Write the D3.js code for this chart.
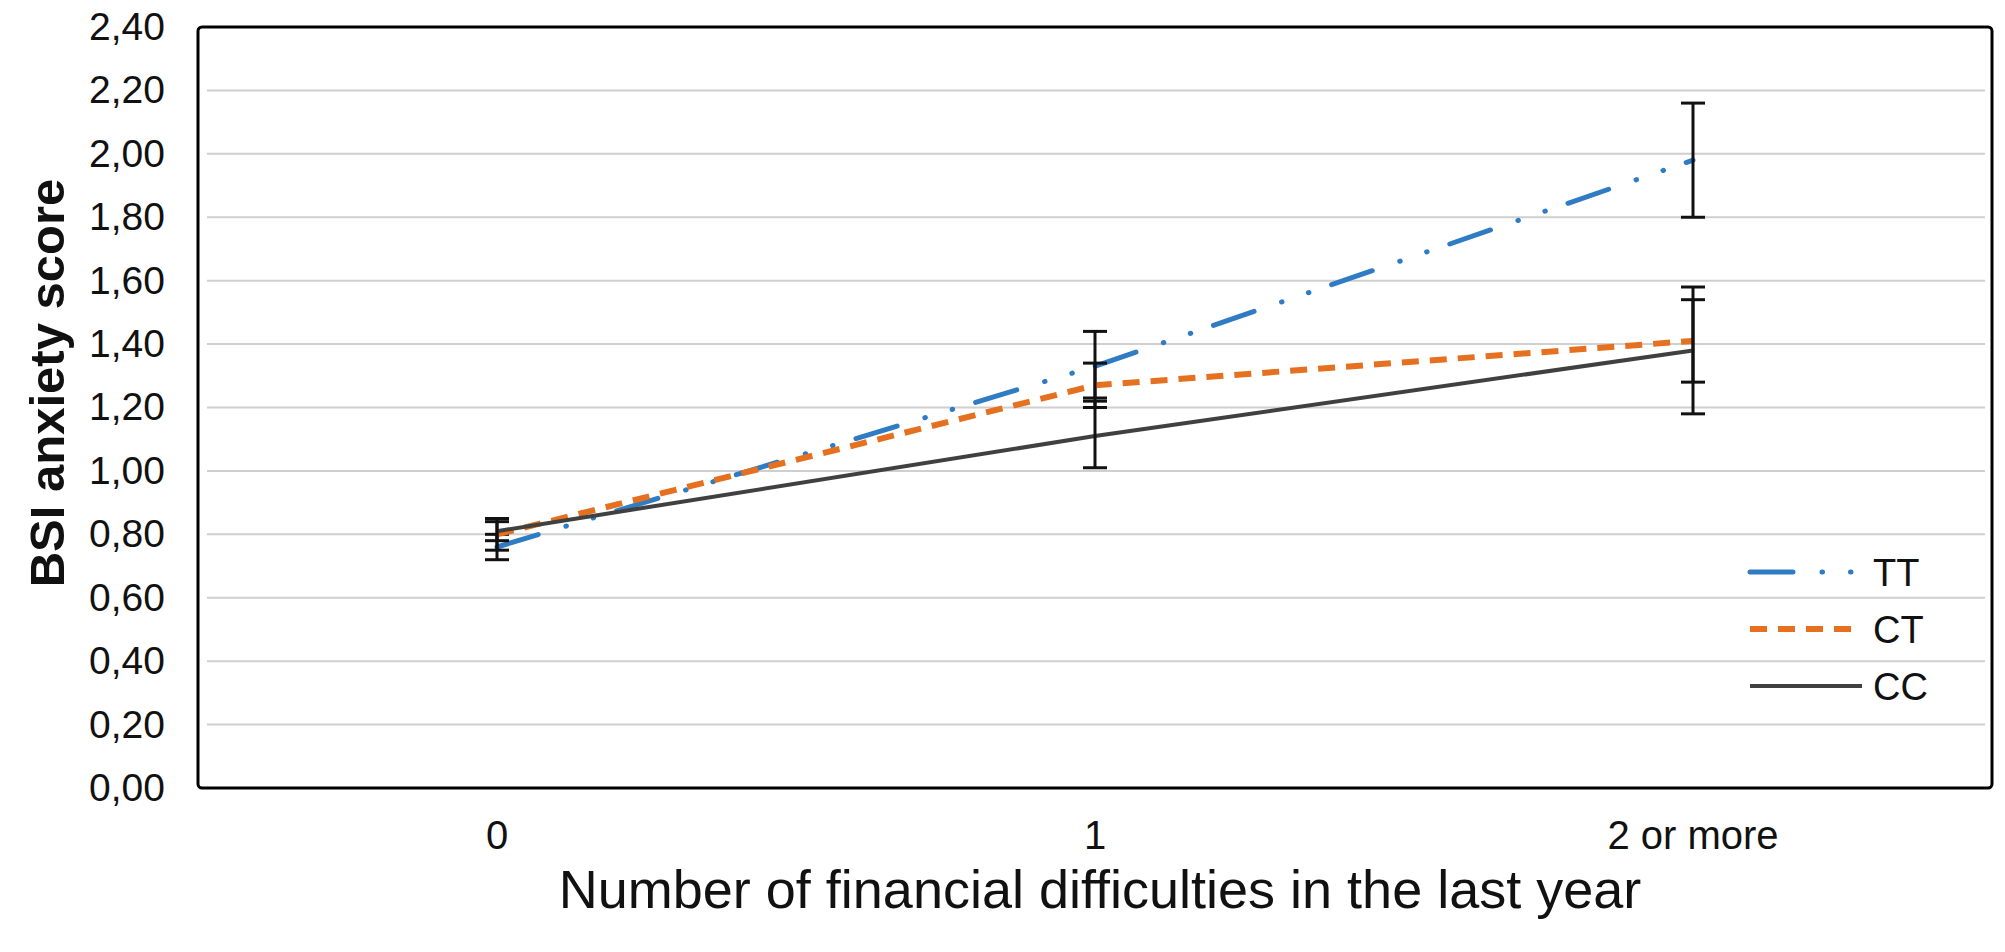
<!DOCTYPE html>
<html>
<head>
<meta charset="utf-8">
<script src="https://cdn.jsdelivr.net/npm/d3@7/dist/d3.min.js"></script>
<style>
    body { margin: 0; background: #fff; }
    svg text { font-family: "Liberation Sans", Arial, sans-serif; fill: #111; }
</style>
</head>
<body>
<svg id="chart"></svg>
<script>
// values
const categories = ["0", "1", "2 or more"];
const seriesNames = ["TT", "CT", "CC"];

const ttMeans = [0.76, 1.33, 1.98];
const ttLow   = [0.72, 1.23, 1.80];
const ttHigh  = [0.80, 1.44, 2.16];

const ctMeans = [0.80, 1.27, 1.41];
const ctLow   = [0.75, 1.20, 1.28];
const ctHigh  = [0.85, 1.34, 1.54];

const ccMeans = [0.81, 1.11, 1.38];
const ccLow   = [0.78, 1.01, 1.18];
const ccHigh  = [0.84, 1.22, 1.58];

const yTicks = [0, 0.2, 0.4, 0.6, 0.8, 1.0, 1.2, 1.4, 1.6, 1.8, 2.0, 2.2, 2.4];

const xTitle = "Number of financial difficulties in the last year";
const yTitle = "BSI anxiety score";

class LineErrorChart {
    constructor(element) {
        this.margin = {top: 27, right: 13, bottom: 164, left: 198};
        this.width = 2005 - this.margin.left - this.margin.right;
        this.height = 952 - this.margin.top - this.margin.bottom;
        this.rootEle = element;
    }

    render() {
        const svg = d3.select(this.rootEle)
            .attr("width", this.width + this.margin.left + this.margin.right)
            .attr("height", this.height + this.margin.top + this.margin.bottom);
        const container = svg.append("g")
            .attr("transform", `translate(${this.margin.left}, ${this.margin.top})`);

        const xScale = d3.scaleBand()
            .domain(categories)
            .range([0, this.width]);
        const yScale = d3.scaleLinear()
            .domain([0, 2.4])
            .range([this.height, 0]);
        const cx = d => xScale(d) + xScale.bandwidth() / 2;

        const fmt = d3.formatLocale({decimal: ",", thousands: ".", grouping: [3], currency: ["", ""]}).format(".2f");

        // gridlines
        container.selectAll(".grid")
            .data(yTicks)
            .enter()
            .append("line")
                .attr("x1", 9)
                .attr("x2", this.width - 7)
                .attr("y1", d => yScale(d))
                .attr("y2", d => yScale(d))
                .attr("stroke", "#cfcfcf")
                .attr("stroke-width", 2);

        // y tick labels
        const yAxis = container.append("g")
            .call(d3.axisLeft(yScale).tickValues(yTicks).tickFormat(fmt).tickSize(0).tickPadding(33));
        yAxis.select(".domain").remove();
        yAxis.selectAll("text")
            .attr("font-size", 39)
            .style("font-family", '"Liberation Sans", Arial, sans-serif')
            .attr("fill", "#111");

        // x tick labels
        const xAxis = container.append("g")
            .attr("transform", `translate(0, ${this.height})`)
            .call(d3.axisBottom(xScale).tickSize(0).tickPadding(33));
        xAxis.select(".domain").remove();
        xAxis.selectAll("text")
            .attr("font-size", 40)
            .style("font-family", '"Liberation Sans", Arial, sans-serif')
            .attr("fill", "#111");

        const series = [
            {name: "TT", means: ttMeans, low: ttLow, high: ttHigh, color: "#2f7bc4", width: 5, dash: "43 29 0.5 28 0.5 24", cap: "round"},
            {name: "CT", means: ctMeans, low: ctLow, high: ctHigh, color: "#e5701f", width: 6, dash: "17 11", cap: "butt"},
            {name: "CC", means: ccMeans, low: ccLow, high: ccHigh, color: "#404040", width: 4, dash: null, cap: "butt"}
        ];

        const line = d3.line()
            .x(d => cx(d.cat))
            .y(d => yScale(d.v));

        const capW = 12;
        series.forEach(s => {
            const pts = categories.map((c, i) => ({cat: c, v: s.means[i], lo: s.low[i], hi: s.high[i]}));

            container.append("path")
                .datum(pts)
                .attr("d", line)
                .attr("fill", "none")
                .attr("stroke", s.color)
                .attr("stroke-width", s.width)
                .attr("stroke-linecap", s.cap)
                .attr("stroke-dasharray", s.dash);

            const bars = container.selectAll(`.err-${s.name}`)
                .data(pts)
                .enter()
                .append("g");
            bars.append("line")
                .attr("x1", d => cx(d.cat))
                .attr("x2", d => cx(d.cat))
                .attr("y1", d => yScale(d.lo))
                .attr("y2", d => yScale(d.hi))
                .attr("stroke", "#111")
                .attr("stroke-width", 3);
            bars.append("line")
                .attr("x1", d => cx(d.cat) - capW)
                .attr("x2", d => cx(d.cat) + capW)
                .attr("y1", d => yScale(d.lo))
                .attr("y2", d => yScale(d.lo))
                .attr("stroke", "#111")
                .attr("stroke-width", 3);
            bars.append("line")
                .attr("x1", d => cx(d.cat) - capW)
                .attr("x2", d => cx(d.cat) + capW)
                .attr("y1", d => yScale(d.hi))
                .attr("y2", d => yScale(d.hi))
                .attr("stroke", "#111")
                .attr("stroke-width", 3);
        });

        // frame round the plot
        container.append("rect")
            .attr("x", 0)
            .attr("y", 0)
            .attr("width", this.width)
            .attr("height", this.height)
            .attr("rx", 4)
            .attr("fill", "none")
            .attr("stroke", "#000")
            .attr("stroke-width", 3);

        // legend
        const legend = svg.append("g")
            .attr("transform", "translate(1750, 572)");
        const item = legend.selectAll("g")
            .data(series)
            .enter()
            .append("g")
                .attr("transform", (d, i) => `translate(0, ${i * 57})`);
        item.append("line")
            .attr("x1", 0)
            .attr("x2", 112)
            .attr("stroke", d => d.color)
            .attr("stroke-width", d => d.width)
            .attr("stroke-linecap", d => d.cap)
            .attr("stroke-dasharray", d => d.dash);
        item.append("text")
            .attr("x", 123)
            .attr("dy", "0.36em")
            .attr("font-size", 38)
            .text(d => d.name);

        // axis titles
        svg.append("text")
            .attr("x", 1100)
            .attr("y", 908)
            .attr("text-anchor", "middle")
            .attr("font-size", 54)
            .text(xTitle);

        svg.append("text")
            .attr("transform", "translate(64, 383) rotate(-90)")
            .attr("text-anchor", "middle")
            .attr("font-size", 49)
            .attr("font-weight", "bold")
            .text(yTitle);
    }
}

new LineErrorChart(document.getElementById("chart")).render();
</script>
</body>
</html>
